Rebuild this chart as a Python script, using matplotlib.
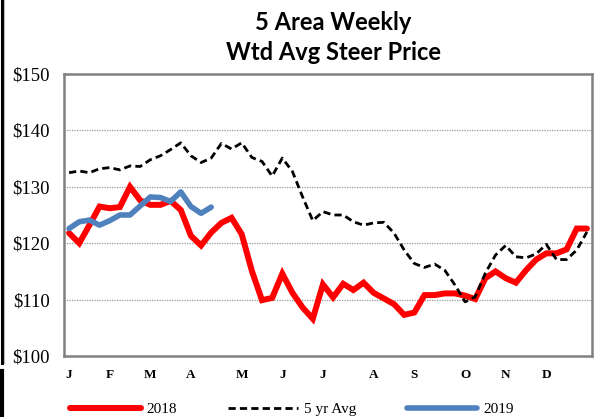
import matplotlib
matplotlib.use("Agg")
import matplotlib.pyplot as plt
from matplotlib.lines import Line2D

# ---- data ----
weeks = list(range(52))
price_2018 = [121.8, 120.0, 123.2, 126.5, 126.2, 126.4, 130.0, 127.6, 126.8, 126.8,
              127.5, 125.9, 121.3, 119.6, 121.9, 123.6, 124.5, 121.6, 115.1, 109.9,
              110.3, 114.6, 111.2, 108.6, 106.6, 112.7, 110.4, 112.8, 111.7, 113.0,
              111.2, 110.2, 109.2, 107.3, 107.7, 110.8, 110.8, 111.1, 111.1, 110.7,
              110.1, 113.8, 115.0, 113.8, 113.0, 115.2, 117.1, 118.2, 118.2, 118.9,
              122.6, 122.6]
avg_5yr = [132.5, 132.8, 132.5, 133.2, 133.4, 133.0, 133.7, 133.6, 134.8, 135.5,
           136.6, 137.8, 135.5, 134.3, 135.1, 137.7, 136.7, 137.8, 135.2, 134.5,
           131.9, 135.1, 132.7, 128.2, 124.0, 125.6, 125.0, 125.0, 123.8, 123.2,
           123.6, 123.7, 121.8, 118.8, 116.4, 115.7, 116.3, 115.2, 112.6, 109.6,
           110.5, 114.7, 117.9, 119.6, 117.6, 117.4, 118.1, 119.8, 117.1, 117.1,
           118.8, 122.0]
price_2019 = [122.6, 123.8, 124.1, 123.2, 124.0, 125.0, 125.0, 126.6, 128.2, 128.1,
              127.4, 129.1, 126.5, 125.3, 126.4]
month_weeks = [0, 4, 8, 12, 17, 21, 25, 30, 34, 39, 43, 47]
month_labels = ["J", "F", "M", "A", "M", "J", "J", "A", "S", "O", "N", "D"]
yticks = [100, 110, 120, 130, 140, 150]
ytick_labels = ["$100", "$110", "$120", "$130", "$140", "$150"]

W, H = 610, 417
fig = plt.figure(figsize=(W / 100, H / 100), dpi=100)
ax = fig.add_axes([64 / W, 1 - 356 / H, (592 - 64) / W, (356 - 74) / H])

serif = "Liberation Serif"

l1, = ax.plot(weeks, price_2018, color="#FF0000", lw=4.3, solid_capstyle="round",
              solid_joinstyle="miter", label="2018", zorder=3)
l2, = ax.plot(weeks, avg_5yr, color="black", lw=2.0, dashes=(2.6, 1.5),
              label="5 yr Avg", zorder=4)
l3, = ax.plot(weeks[:len(price_2019)], price_2019, color="#4F81BD", lw=4.0,
              solid_capstyle="round", label="2019", zorder=5)

ax.set_xlim(-0.5, 51.5)
ax.set_ylim(100, 150)
ax.set_yticks(yticks)
ax.set_yticklabels(ytick_labels, fontfamily=serif, fontsize=13.5)
ax.set_xticks(month_weeks)
ax.set_xticklabels(month_labels, fontfamily=serif, fontsize=9.5, fontweight="bold")
ax.tick_params(axis="both", length=0)
ax.tick_params(axis="y", pad=10)
ax.tick_params(axis="x", pad=9)

for y in [110, 120, 130, 140]:
    ax.axhline(y, color="#999999", lw=0.9, ls=(0, (1, 1)), zorder=1)

for s in ax.spines.values():
    s.set_color("#808080")
    s.set_linewidth(1.8)

fig.text(333 / W, 1 - 22 / H, "5 Area Weekly", ha="center", va="center",
         fontfamily="Lato", fontweight="bold", fontsize=17)
fig.text(333 / W, 1 - 52 / H, "Wtd Avg Steer Price", ha="center", va="center",
         fontfamily="Lato", fontweight="bold", fontsize=17)

fig.legend(handles=[l1, l2, l3], loc="center", bbox_to_anchor=(292 / W, 1 - 409 / H),
           ncol=3, frameon=False, prop={"family": serif, "size": 11},
           handlelength=4.6, handletextpad=0.4, columnspacing=3.3, borderpad=0)

# left edge frame artifacts
fig.add_artist(Line2D([1.5 / W, 1.5 / W], [1, 1 - 363 / H], color="black", lw=2.2,
                      transform=fig.transFigure))
fig.add_artist(Line2D([4 / W, 4 / W], [1, 1 - 363 / H], color="#BBBBBB", lw=0.8,
                      transform=fig.transFigure))
fig.add_artist(Line2D([2 / W, 2 / W], [1 - 371 / H, 0], color="black", lw=3,
                      transform=fig.transFigure))

fig.savefig("out.png", dpi=100)
